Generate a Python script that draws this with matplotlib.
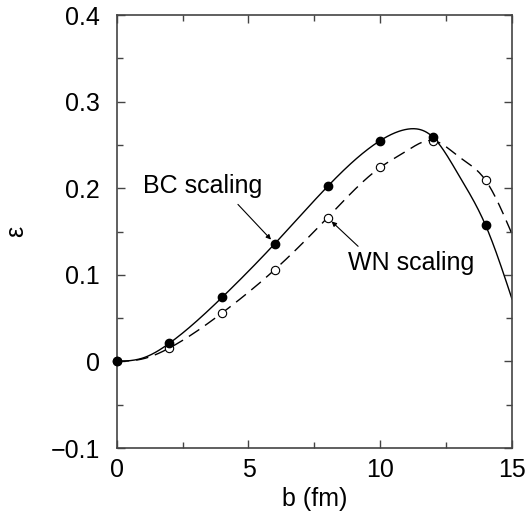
import numpy as np
import matplotlib
matplotlib.use("Agg")
import matplotlib.pyplot as plt
from matplotlib.ticker import MultipleLocator

plt.rcParams['font.family'] = ['Liberation Sans', 'DejaVu Sans']

# Computed eccentricity at each impact parameter
b_points = [0, 2, 4, 6, 8, 10, 12, 14]
eps_bc = [0.0, 0.021, 0.074, 0.136, 0.202, 0.255, 0.259, 0.157]
eps_wn = [0.0, 0.0155, 0.056, 0.106, 0.166, 0.224, 0.255, 0.209]

# Smooth curves (knots of the fitted curves)
b_bc_curve = [0, 1, 2, 4, 6, 8, 10, 11, 12, 13, 14, 15]
eps_bc_curve = [0.0, 0.004, 0.021, 0.074, 0.136, 0.202, 0.255, 0.268, 0.259, 0.214, 0.157, 0.072]
b_wn_curve = [0, 1, 2, 4, 6, 8, 10, 11, 12, 13, 14, 15]
eps_wn_curve = [0.0, 0.003, 0.0155, 0.056, 0.106, 0.166, 0.224, 0.243, 0.255, 0.236, 0.209, 0.147]

y_ticks = [-0.1, 0.0, 0.1, 0.2, 0.3, 0.4]
y_tick_labels = ['\u22120.1', '0', '0.1', '0.2', '0.3', '0.4']
x_ticks = [0, 5, 10, 15]
x_tick_labels = ['0', '5', '10', '15']


def natural_spline(xk, yk, x):
    xk = np.asarray(xk, float)
    yk = np.asarray(yk, float)
    n = len(xk)
    h = np.diff(xk)
    A = np.zeros((n, n))
    r = np.zeros(n)
    A[0, 0] = A[-1, -1] = 1.0
    for i in range(1, n - 1):
        A[i, i - 1] = h[i - 1]
        A[i, i] = 2 * (h[i - 1] + h[i])
        A[i, i + 1] = h[i]
        r[i] = 6 * ((yk[i + 1] - yk[i]) / h[i] - (yk[i] - yk[i - 1]) / h[i - 1])
    m = np.linalg.solve(A, r)
    idx = np.clip(np.searchsorted(xk, x) - 1, 0, n - 2)
    x0, x1 = xk[idx], xk[idx + 1]
    hh = x1 - x0
    t0, t1 = x1 - x, x - x0
    return (m[idx] * t0**3 / (6 * hh) + m[idx + 1] * t1**3 / (6 * hh)
            + (yk[idx] / hh - m[idx] * hh / 6) * t0
            + (yk[idx + 1] / hh - m[idx + 1] * hh / 6) * t1)


fig = plt.figure(figsize=(5.26, 5.23), dpi=100)
ax = fig.add_axes([0.2219, 0.1434, 0.7515, 0.8279])

xs = np.linspace(0, 15, 400)
ax.plot(xs, natural_spline(b_bc_curve, eps_bc_curve, xs), color='black', lw=1.0)
ax.plot(xs, natural_spline(b_wn_curve, eps_wn_curve, xs), color='black', lw=1.0,
        dashes=(9, 5))

ax.plot(b_points, eps_wn, linestyle='none', marker='o', markersize=6,
        markerfacecolor='white', markeredgecolor='black', markeredgewidth=0.8,
        clip_on=False, zorder=3)
ax.plot(b_points, eps_bc, linestyle='none', marker='o', markersize=6,
        markerfacecolor='black', markeredgecolor='black', clip_on=False, zorder=4)

ax.set_xlim(0, 15)
ax.set_ylim(-0.1, 0.4)
ax.set_xticks(x_ticks)
ax.set_xticklabels(x_tick_labels)
ax.set_yticks(y_ticks)
ax.set_yticklabels(y_tick_labels)
ax.xaxis.set_minor_locator(MultipleLocator(2.5))
ax.yaxis.set_minor_locator(MultipleLocator(0.05))

ax.tick_params(which='both', direction='in', top=True, right=True,
               labelsize=18, color='#444444', width=1.0)
ax.tick_params(which='major', length=6)
ax.tick_params(which='minor', length=4)
ax.tick_params(axis='y', pad=12)
ax.tick_params(axis='x', pad=7)
for s in ax.spines.values():
    s.set_color('#444444')
    s.set_linewidth(1.2)

ax.set_xlabel('b (fm)', fontsize=18, labelpad=4)
ax.set_ylabel('\u03b5', fontsize=18, labelpad=16)

ax.text(1.01, 0.195, 'BC scaling', fontsize=18, ha='left', va='baseline')
ax.text(8.79, 0.1054, 'WN scaling', fontsize=18, ha='left', va='baseline')

arrow = dict(arrowstyle='-|>', lw=0.8, color='black', mutation_scale=7,
             shrinkA=0, shrinkB=4)
ax.annotate('', xy=(b_points[3], eps_bc[3]), xytext=(4.6, 0.1813), arrowprops=arrow)
ax.annotate('', xy=(b_points[4], eps_wn[4]), xytext=(9.16, 0.1329), arrowprops=arrow)

fig.savefig('out.png', dpi=100)
